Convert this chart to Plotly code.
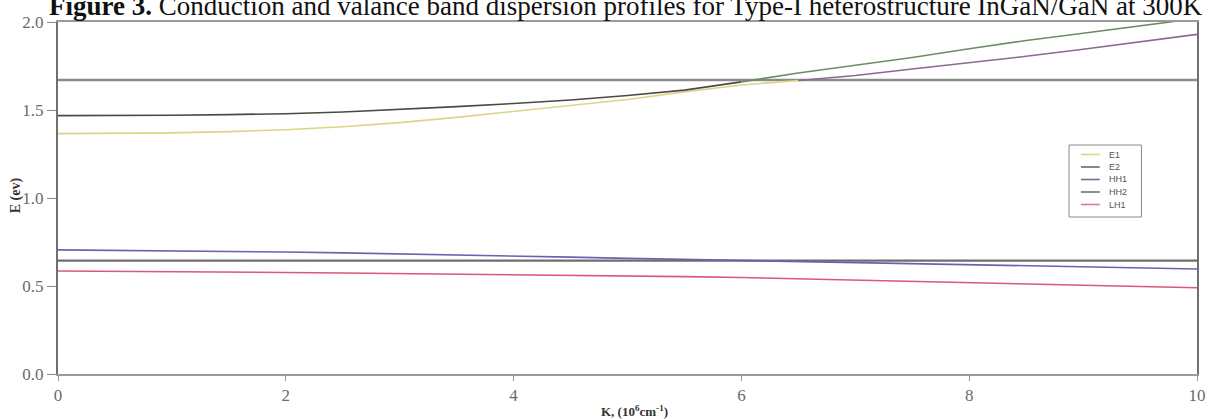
import plotly.graph_objects as go

# Wave vector K (10^6 cm^-1)
k = [0, 0.5, 1, 1.5, 2, 2.5, 3, 3.5, 4, 4.5, 5, 5.5, 6, 6.5, 7, 7.5, 8, 8.5, 9, 9.5, 10]

# Conduction subbands (eV)
e1 = [1.366, 1.367, 1.370, 1.377, 1.388, 1.405, 1.428, 1.458, 1.492, 1.526, 1.560, 1.603,
      1.642, 1.668, 1.696, 1.733, 1.767, 1.805, 1.845, 1.887, 1.930]
e2 = [1.468, 1.468, 1.470, 1.474, 1.479, 1.489, 1.502, 1.519, 1.537, 1.557, 1.582, 1.613,
      1.660, 1.710, 1.754, 1.798, 1.848, 1.895, 1.936, 1.980, 2.020]

# Valence subbands (eV)
hh1 = [0.705, 0.703, 0.700, 0.697, 0.693, 0.688, 0.683, 0.677, 0.670, 0.664, 0.657, 0.651,
       0.645, 0.640, 0.634, 0.628, 0.622, 0.616, 0.610, 0.603, 0.597]
hh2 = [0.644] * len(k)
lh1 = [0.585, 0.584, 0.582, 0.580, 0.577, 0.574, 0.571, 0.568, 0.564, 0.561, 0.557, 0.553,
       0.548, 0.541, 0.533, 0.526, 0.518, 0.511, 0.503, 0.497, 0.490]

# Barrier level (eV)
barrier = [1.67] * len(k)

x_ticks = [0, 2, 4, 6, 8, 10]
y_ticks = [0.0, 0.5, 1.0, 1.5, 2.0]

legend_names = ["E1", "E2", "HH1", "HH2", "LH1"]
legend_colors = ["#ddd585", "#6a6a6a", "#7a6a98", "#6e6e7a", "#e07a90"]

split = 13  # index where the upper curves leave the crossing region

fig = go.Figure()

fig.add_trace(go.Scatter(x=k, y=barrier, mode="lines",
                         line=dict(color="#8c8c8c", width=2.5), hoverinfo="skip"))
fig.add_trace(go.Scatter(x=k, y=hh2, mode="lines", name="HH2",
                         line=dict(color="#6e6e6e", width=2.2)))

fig.add_trace(go.Scatter(x=k[:split + 1], y=e1[:split + 1], mode="lines", name="E1",
                         line=dict(color="#ddd585", width=1.6)))
fig.add_trace(go.Scatter(x=k[split:], y=e1[split:], mode="lines", name="E1",
                         line=dict(color="#8a6a8e", width=1.6)))

fig.add_trace(go.Scatter(x=k[:split], y=e2[:split], mode="lines", name="E2",
                         line=dict(color="#4a4a45", width=1.6)))
fig.add_trace(go.Scatter(x=k[split - 1:], y=e2[split - 1:], mode="lines", name="E2",
                         line=dict(color="#6f8a68", width=1.6)))

fig.add_trace(go.Scatter(x=k, y=hh1, mode="lines", name="HH1",
                         line=dict(color="#6a62b0", width=1.6)))
fig.add_trace(go.Scatter(x=k, y=lh1, mode="lines", name="LH1",
                         line=dict(color="#d85a74", width=1.6)))

# Plot-area geometry in pixels, used to place the legend box and labels
W, H = 1210, 419
L, R, T, B = 58, 4, 22, 45
pw, ph = W - L - R, H - T - B


def px(x):
    return (x - L) / pw


def py(y):
    return (H - B - y) / ph


shapes = [dict(type="rect", xref="paper", yref="paper",
               x0=px(1077), x1=px(1150), y0=py(217), y1=py(145),
               line=dict(color="#8a8a8a", width=1), fillcolor="white", layer="above")]
annotations = []
for i, (name, color) in enumerate(zip(legend_names, legend_colors)):
    yy = 154.5 + i * 12.5
    shapes.append(dict(type="line", xref="paper", yref="paper",
                       x0=px(1089), x1=px(1108), y0=py(yy), y1=py(yy),
                       line=dict(color=color, width=1.6), layer="above"))
    annotations.append(dict(text=name, xref="paper", yref="paper", x=px(1115), y=py(yy),
                            xanchor="left", yanchor="middle", showarrow=False,
                            font=dict(family="Liberation Sans", size=9, color="#555")))

annotations += [
    dict(text="<b>Figure 3.</b> Conduction and valance band dispersion profiles for "
              "Type-I heterostructure InGaN/GaN at 300K",
         xref="paper", yref="paper", x=px(47), y=1, xanchor="left", yanchor="bottom",
         yshift=-1, showarrow=False,
         font=dict(family="Liberation Serif", size=27, color="#111")),
    dict(text="<b>E (ev)</b>", xref="paper", yref="paper", x=px(16), y=py(195),
         textangle=-90, showarrow=False, xanchor="center", yanchor="middle",
         font=dict(family="Liberation Serif", size=14, color="#333")),
    dict(text="<b>K, (10<sup>6</sup>cm<sup>-1</sup>)</b>", xref="paper", yref="paper",
         x=px(639), y=py(411), showarrow=False, xanchor="center", yanchor="middle",
         font=dict(family="Liberation Serif", size=13, color="#333")),
]

tick_font = dict(family="Liberation Serif", size=17, color="#6a6a6a")

fig.update_layout(
    width=W, height=H,
    margin=dict(l=L, r=R, t=T, b=B),
    paper_bgcolor="white", plot_bgcolor="white",
    showlegend=False,
    xaxis=dict(range=[0, 10], tickvals=x_ticks, showgrid=False, zeroline=False,
               showline=True, linecolor="#9a9a9a", linewidth=2, mirror=True,
               ticks="outside", ticklen=5, tickcolor="#999", tickfont=tick_font,
               ticklabeloverflow="allow"),
    yaxis=dict(range=[0, 2], tickvals=y_ticks, tickformat=".1f",
               showgrid=False, zeroline=False,
               showline=True, linecolor="#707070", linewidth=2, mirror=True,
               ticks="outside", ticklen=9, tickcolor="#888", tickfont=tick_font),
    shapes=shapes,
    annotations=annotations,
)

fig.write_html("out.html")
